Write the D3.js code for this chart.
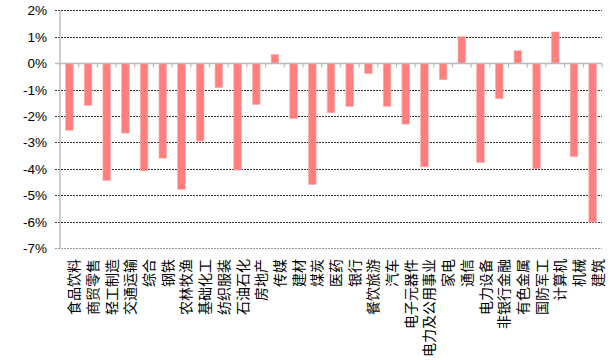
<!DOCTYPE html>
<html>
<head>
<meta charset="utf-8">
<script src="https://cdn.jsdelivr.net/npm/d3@7"></script>
<style>
  html, body { margin: 0; padding: 0; background: #fff; }
  svg { display: block; }
  .cat { font-family: "Noto Sans CJK SC", sans-serif; font-size: 14px; fill: #000; }
  .ytick { font-family: "Liberation Sans", Arial, sans-serif; font-size: 13.5px; fill: #000; }
</style>
</head>
<body>
<svg id="chart" width="613" height="360"></svg>
<script>
// Industry categories (weekly change, %)
const categories = ["食品饮料","商贸零售","轻工制造","交通运输","综合","钢铁","农林牧渔","基础化工",
  "纺织服装","石油石化","房地产","传媒","建材","煤炭","医药","银行","餐饮旅游","汽车","电子元器件",
  "电力及公用事业","家电","通信","电力设备","非银行金融","有色金属","国防军工","计算机","机械","建筑"];
const values = [-2.55,-1.6,-4.45,-2.65,-4.08,-3.6,-4.78,-2.95,-0.93,-4.05,-1.57,0.33,-2.1,-4.6,
  -1.88,-1.64,-0.4,-1.64,-2.31,-3.93,-0.63,1.0,-3.77,-1.35,0.47,-4.0,1.18,-3.54,-6.02];
const yTicks = [2,1,0,-1,-2,-3,-4,-5,-6,-7];

const svg = d3.select("#chart");
const plotL = 60, plotR = 602, plotT = 10.3, plotB = 248;

const x = d3.scaleBand().domain(categories).range([plotL, plotR]).paddingInner(0.59).paddingOuter(0.295);
const xb = d3.scaleBand().domain(categories).range([plotL, plotR]);
const y = d3.scaleLinear().domain([-7, 2]).range([plotB, plotT]);

// horizontal gridlines
svg.append("g").selectAll("line").data(yTicks.filter(d => d !== 0)).join("line")
  .attr("x1", plotL - 5).attr("x2", plotR)
  .attr("y1", d => Math.round(y(d)) + 0.5).attr("y2", d => Math.round(y(d)) + 0.5)
  .attr("stroke", d => d === -7 ? "#999" : "#333")
  .attr("stroke-width", 1)
  .attr("stroke-dasharray", "2,1");

// bars
svg.append("g").selectAll("rect").data(values).join("rect")
  .attr("x", (d, i) => x(categories[i]))
  .attr("width", x.bandwidth())
  .attr("y", d => y(Math.max(0, d)))
  .attr("height", d => Math.abs(y(d) - y(0)))
  .attr("fill", "#ff7f7f")
  .attr("stroke", "#ffb3b3")
  .attr("stroke-width", 0.6);

// y axis line
svg.append("line").attr("x1", plotL).attr("x2", plotL).attr("y1", plotT).attr("y2", plotB)
  .attr("stroke", "#bbb").attr("stroke-width", 1.5);

// zero baseline with category tick marks
const y0 = Math.round(y(0)) + 0.5;
svg.append("line").attr("x1", plotL - 5).attr("x2", plotR).attr("y1", y0).attr("y2", y0)
  .attr("stroke", "#bbb").attr("stroke-width", 1.5);
const bounds = categories.map(c => xb(c)).concat([plotR]).slice(1);
svg.append("g").selectAll("line").data(bounds).join("line")
  .attr("x1", d => d).attr("x2", d => d).attr("y1", y0).attr("y2", y0 + 4)
  .attr("stroke", "#bbb").attr("stroke-width", 1.2);

// y tick labels
svg.append("g").selectAll("text").data(yTicks).join("text")
  .attr("class", "ytick")
  .attr("x", 47).attr("y", d => y(d) + 5)
  .attr("text-anchor", "end")
  .text(d => d + "%");

// category labels, rotated to read bottom-to-top, anchored under the plot
svg.append("g").selectAll("text").data(categories).join("text")
  .attr("class", "cat")
  .attr("text-anchor", "end")
  .attr("dominant-baseline", "central")
  .attr("transform", d => `translate(${xb(d) + xb.bandwidth() / 2 + 4},259) rotate(-90)`)
  .text(d => d);
</script>
</body>
</html>
